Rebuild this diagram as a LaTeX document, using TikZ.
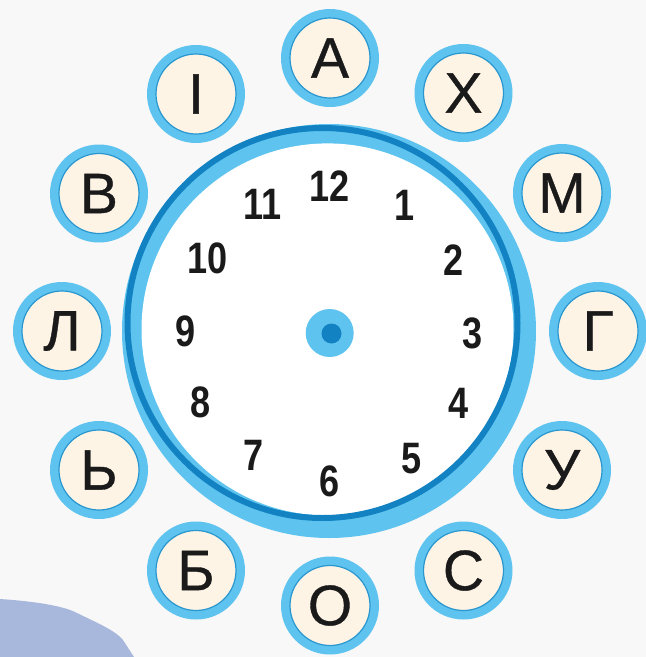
\documentclass[tikz,border=0pt]{standalone}
\usepackage{fontspec}
\setmainfont{Liberation Sans}
\newfontfamily\numfont{Liberation Sans}[FakeStretch=0.82]
\newfontfamily\letfont{Liberation Sans}[FakeBold=0.6]
\definecolor{bg}{HTML}{F8F8F8}
\definecolor{lblue}{HTML}{5EC4EF}
\definecolor{dblue}{HTML}{1382C2}
\definecolor{cream}{HTML}{FDF4E6}
\definecolor{blob}{HTML}{A8B8DC}
\definecolor{ink}{HTML}{1A1A1A}
\tikzset{
  letterdisk/.style={circle, fill=lblue, minimum size=98pt, inner sep=0pt},
  lettercore/.style={circle, fill=cream, draw=dblue!70!lblue, line width=1.2pt, minimum size=80pt, inner sep=0pt,
     font=\letfont\fontsize{57}{60}\selectfont, text=ink},
  hournum/.style={font=\numfont\bfseries\fontsize{44}{48}\selectfont, text=ink, inner sep=0pt}
}
\begin{document}
\begin{tikzpicture}[x=1pt,y=-1pt]
\fill[bg] (0,0) rectangle (646,657);
\useasboundingbox (0,0) rectangle (646,657);
% blob
\fill[blob] (0,599) .. controls (30,601) and (60,605) .. (75,612)
  .. controls (95,622) and (115,630) .. (123,640) -- (134,657) -- (0,657) -- cycle;
% clock
\fill[lblue] (329,331) circle (207);
\fill[white] (327.5,329.4) circle (186);
\draw[dblue, line width=6pt] (322.5,323) circle (195);
\fill[lblue] (329.7,333) circle (24);
\fill[dblue] (331.5,333.5) circle (10);
\node[hournum] (n12) at (329.6,186.4) {12};
\node[hournum] (n1) at (405,205.3) {1};
\node[hournum] (n2) at (453.2,259.7) {2};
\node[hournum] (n3) at (472.6,333) {3};
\node[hournum] (n4) at (458.2,403) {4};
\node[hournum] (n5) at (411.2,458.7) {5};
\node[hournum] (n6) at (329.6,481.8) {6};
\node[hournum] (n7) at (253.4,455.8) {7};
\node[hournum] (n8) at (200.7,402.2) {8};
\node[hournum] (n9) at (185.4,331.8) {9};
\node[hournum] (n10) at (207.3,258.5) {10};
\node[hournum] (n11) at (262.5,204.4) {11};
% letters
\foreach \name/\x/\y/\t in {
  l1/330/58/А, l2/463.5/93/Х, l3/562/193/М, l4/598/331/Г,
  l5/562/470/У, l6/463.5/570.5/С, l7/330/605.5/О, l8/196/570.5/Б,
  l9/99/470/Ь, l10/62/331/Л, l11/99/193.5/В, l12/196/94/І}{
  \node[letterdisk] (\name d) at (\x,\y) {};
  \node[lettercore] (\name) at (\x,\y) {\t};
}
\end{tikzpicture}
\end{document}
